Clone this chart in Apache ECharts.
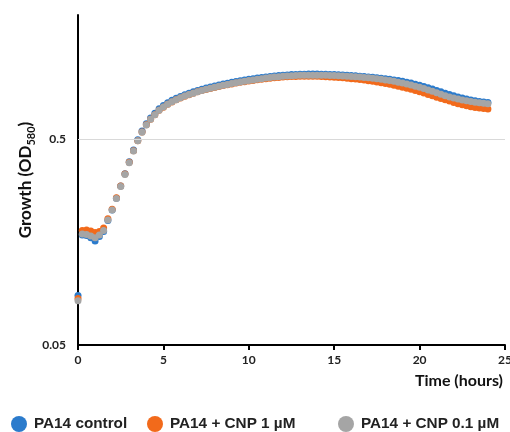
<!DOCTYPE html>
<html><head><meta charset="utf-8">
<script src="https://cdn.jsdelivr.net/npm/echarts@6/dist/echarts.min.js"></script>
<style>html,body{margin:0;padding:0;background:#fff}#c{width:510px;height:432px}</style>
</head><body><div id="c"></div>
<script>
const hours = [0,0.25,0.5,0.75,1,1.25,1.5,1.75,2,2.25,2.5,2.75,3,3.25,3.5,3.75,4,4.25,4.5,4.75,5,5.25,5.5,5.75,6,6.25,6.5,6.75,7,7.25,7.5,7.75,8,8.25,8.5,8.75,9,9.25,9.5,9.75,10,10.25,10.5,10.75,11,11.25,11.5,11.75,12,12.25,12.5,12.75,13,13.25,13.5,13.75,14,14.25,14.5,14.75,15,15.25,15.5,15.75,16,16.25,16.5,16.75,17,17.25,17.5,17.75,18,18.25,18.5,18.75,19,19.25,19.5,19.75,20,20.25,20.5,20.75,21,21.25,21.5,21.75,22,22.25,22.5,22.75,23,23.25,23.5,23.75,24];

const control = [0.087,0.171,0.170,0.166,0.160,0.168,0.178,0.201,0.226,0.258,0.296,0.339,0.388,0.442,0.496,0.547,0.593,0.633,0.666,0.701,0.727,0.750,0.771,0.789,0.805,0.821,0.835,0.848,0.861,0.873,0.884,0.895,0.905,0.915,0.924,0.933,0.942,0.950,0.958,0.966,0.974,0.981,0.988,0.994,1.000,1.006,1.011,1.016,1.020,1.024,1.027,1.029,1.031,1.032,1.033,1.033,1.033,1.032,1.031,1.029,1.027,1.025,1.022,1.019,1.016,1.013,1.009,1.005,1.001,0.997,0.992,0.987,0.981,0.975,0.968,0.961,0.953,0.944,0.934,0.923,0.912,0.899,0.887,0.874,0.861,0.848,0.835,0.823,0.811,0.800,0.790,0.781,0.773,0.766,0.760,0.756,0.753];

const cnp1 = [0.084,0.180,0.181,0.179,0.176,0.178,0.185,0.205,0.228,0.259,0.296,0.338,0.386,0.439,0.491,0.541,0.586,0.624,0.656,0.690,0.714,0.737,0.757,0.775,0.791,0.807,0.821,0.834,0.847,0.859,0.870,0.880,0.890,0.900,0.909,0.918,0.926,0.934,0.942,0.949,0.956,0.963,0.969,0.975,0.981,0.986,0.991,0.995,0.999,1.002,1.005,1.007,1.008,1.009,1.009,1.009,1.008,1.006,1.004,1.001,0.998,0.995,0.991,0.987,0.982,0.977,0.972,0.966,0.960,0.953,0.946,0.938,0.930,0.921,0.912,0.902,0.892,0.882,0.871,0.860,0.848,0.836,0.823,0.810,0.798,0.786,0.775,0.764,0.752,0.742,0.733,0.725,0.718,0.712,0.707,0.703,0.700];

const cnp01 = [0.082,0.173,0.172,0.169,0.166,0.171,0.180,0.202,0.226,0.257,0.294,0.336,0.384,0.437,0.490,0.540,0.585,0.624,0.655,0.690,0.715,0.738,0.758,0.776,0.793,0.808,0.822,0.835,0.848,0.860,0.871,0.882,0.892,0.902,0.911,0.920,0.929,0.937,0.945,0.953,0.961,0.968,0.975,0.982,0.988,0.994,0.999,1.004,1.008,1.012,1.015,1.017,1.019,1.020,1.021,1.021,1.021,1.020,1.019,1.018,1.016,1.014,1.012,1.009,1.006,1.003,0.999,0.995,0.991,0.986,0.981,0.975,0.968,0.961,0.953,0.944,0.935,0.925,0.914,0.903,0.891,0.879,0.866,0.852,0.838,0.825,0.812,0.800,0.790,0.781,0.773,0.766,0.760,0.754,0.749,0.745,0.741];

const seriesNames = ['PA14 control','PA14 + CNP 1 µM','PA14 + CNP 0.1 µM'];
const seriesColors = ['#2b7bcc','#f26a1b','#a5a5a5'];
const yTickValues = [0.05, 0.5];
const xTicks = [0,5,10,15,20,25];

const pairs = arr => hours.map((h,i)=>[h,arr[i]]);
const chart = echarts.init(document.getElementById('c'));
const axisFont = 'Lato, "Open Sans", sans-serif';
const legendBase = {
  orient:'horizontal', icon:'circle', itemWidth:16, itemHeight:16, top:416, padding:0,
  textStyle:{fontFamily:'"Liberation Sans", Arial, sans-serif', fontWeight:'bold', fontSize:15.3, color:'#222', padding:[0,0,0,2]}
};
chart.setOption({
  animation:false,
  backgroundColor:'#fff',
  grid:{left:78, right:5, top:15, bottom:87, containLabel:false, outerBoundsMode:'none'},
  legend:[
    Object.assign({}, legendBase, {left:11, data:[seriesNames[0]]}),
    Object.assign({}, legendBase, {left:147, data:[seriesNames[1]]}),
    Object.assign({}, legendBase, {left:338, data:[seriesNames[2]]})
  ],
  xAxis:{
    type:'value', min:0, max:25, interval:5,
    axisLine:{show:true, onZero:false, lineStyle:{color:'#000', width:2}},
    axisTick:{show:true, inside:false, length:5, lineStyle:{color:'#000', width:2}},
    axisLabel:{fontFamily:axisFont, fontWeight:'bold', fontSize:12, color:'#222', margin:9,
      customValues:xTicks},
    splitLine:{show:false},
    name:'Time (hours)', nameLocation:'end', nameGap:-2, nameMoveOverlap:false,
    nameTextStyle:{fontFamily:axisFont, fontWeight:'bold', fontSize:16, color:'#111', align:'right', verticalAlign:'top', padding:[28,0,0,0]}
  },
  yAxis:{
    type:'log', logBase:10, min:0.05, max:2,
    axisLine:{show:true, lineStyle:{color:'#000', width:2}},
    axisTick:{show:false},
    axisLabel:{fontFamily:axisFont, fontWeight:'bold', fontSize:12, color:'#222', margin:12,
      customValues:yTickValues, formatter:v=>String(v)},
    splitLine:{show:false},
    name:'{a|Growth (OD}{b|580}{a|)}', nameLocation:'middle', nameGap:41, nameMoveOverlap:false,
    nameTextStyle:{rich:{
      a:{fontFamily:axisFont, fontWeight:'bold', fontSize:17, color:'#111', lineHeight:22, verticalAlign:'middle'},
      b:{fontFamily:axisFont, fontWeight:'bold', fontSize:11, color:'#111', lineHeight:10, verticalAlign:'bottom'}
    }}
  },
  series:[
    {name:seriesNames[0], type:'scatter', data:pairs(control), symbolSize:7, itemStyle:{color:seriesColors[0], opacity:1}, z:2,
     markLine:{silent:true, symbol:'none', label:{show:false}, lineStyle:{color:'#d9d9d9', width:1, type:'solid'}, data:[{yAxis:0.5}]}},
    {name:seriesNames[1], type:'scatter', data:pairs(cnp1), symbolSize:7, itemStyle:{color:seriesColors[1], opacity:1}, z:3},
    {name:seriesNames[2], type:'scatter', data:pairs(cnp01), symbolSize:7, itemStyle:{color:seriesColors[2], opacity:1}, z:4}
  ]
});
</script></body></html>
